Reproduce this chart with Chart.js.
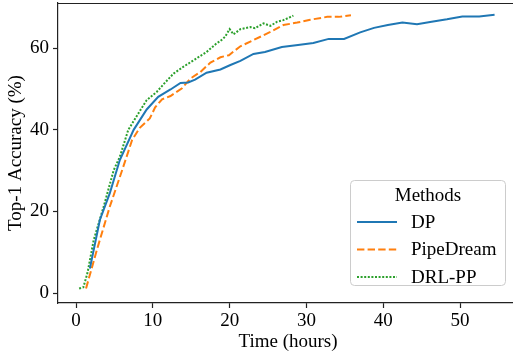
<!DOCTYPE html>
<html>
<head>
<meta charset="utf-8">
<script src="https://cdn.jsdelivr.net/npm/chart.js@4.4.1/dist/chart.umd.min.js"></script>
<style>
  html, body { margin: 0; background: #fff; overflow: hidden; }
  canvas { display: block; }
</style>
</head>
<body>
<!-- a few px wider than the window: the right side of the frame is cut off in the original -->
<canvas id="chart" width="518" height="354"></canvas>
<script>
// Data (hours, top-1 accuracy %)
var dpTime = [1.8, 3.1, 4.4, 5.7, 7.5, 9.2, 10.7, 12.3, 13.6, 14.6, 15.5, 17.0, 18.8, 20.1, 21.4, 23.1, 24.6, 26.8, 28.9, 30.9, 32.9, 34.9, 37.0, 38.8, 40.6, 42.5, 44.4, 46.3, 48.3, 50.3, 52.5, 54.5];
var dpAcc = [6.0, 17.9, 24.5, 32.6, 40.0, 45.0, 48.1, 49.9, 51.5, 51.6, 52.3, 54.0, 54.8, 55.9, 56.9, 58.6, 59.1, 60.3, 60.8, 61.3, 62.3, 62.3, 63.9, 65.0, 65.7, 66.3, 65.9, 66.5, 67.1, 67.8, 67.8, 68.2];

var pdTime = [1.3, 2.7, 4.4, 6.0, 7.3, 8.3, 9.6, 10.3, 11.2, 12.3, 13.8, 14.9, 16.2, 17.5, 18.8, 19.9, 21.4, 23.1, 25.3, 27.0, 28.8, 30.5, 32.7, 34.2, 35.8];
var pdAcc = [1.1, 10.5, 21.2, 30.1, 37.5, 40.5, 42.8, 45.5, 47.5, 48.3, 50.2, 52.6, 54.2, 56.5, 57.8, 58.3, 60.5, 62.0, 64.0, 65.7, 66.3, 67.0, 67.7, 67.7, 68.1];

var drlTime = [0.4, 0.95, 1.5, 2.3, 3.6, 4.9, 5.7, 6.8, 8.3, 9.2, 10.5, 11.6, 12.7, 14.0, 15.5, 17.0, 18.3, 18.8, 19.4, 20.0, 20.5, 21.4, 22.7, 23.3, 24.4, 25.3, 26.2, 27.0, 28.3];
var drlAcc = [1.1, 1.4, 5.0, 13.0, 21.2, 30.1, 33.4, 40.0, 44.6, 47.3, 49.3, 51.6, 53.8, 55.5, 57.3, 59.1, 61.2, 61.8, 62.8, 64.7, 63.4, 64.7, 65.2, 64.9, 66.1, 65.5, 66.5, 66.9, 68.0];

var methodNames = ["DP", "PipeDream", "DRL-PP"];
var xTicks = [0, 10, 20, 30, 40, 50];
var yTicks = [0, 20, 40, 60];

var FONT = "'Liberation Serif', 'Times New Roman', serif";

function toPoints(xs, ys) {
    var pts = [];
    for (var i = 0; i < xs.length; i++) {
        pts.push({x: xs[i], y: ys[i]});
    }
    return pts;
}

// Top spine (matplotlib style frame)
var frame = {
    id: "frame",
    afterDatasetsDraw: function (chart) {
        var a = chart.chartArea;
        var ctx = chart.ctx;
        ctx.save();
        ctx.strokeStyle = "#222";
        ctx.lineWidth = 1.2;
        ctx.beginPath();
        ctx.moveTo(a.left, a.top + 0.5);
        ctx.lineTo(a.right, a.top + 0.5);
        ctx.stroke();
        ctx.restore();
    }
};

// Legend box in the lower right, with a title
var methodLegend = {
    id: "methodLegend",
    afterDraw: function (chart) {
        var a = chart.chartArea;
        var ctx = chart.ctx;
        var w = 155, h = 105;
        var x = 350;
        var y = a.bottom - 18 - h;
        ctx.save();
        ctx.beginPath();
        ctx.roundRect(x + 0.5, y + 0.5, w, h, 4);
        ctx.fillStyle = "rgba(255,255,255,0.8)";
        ctx.fill();
        ctx.strokeStyle = "#cccccc";
        ctx.lineWidth = 1;
        ctx.stroke();

        ctx.font = "19px " + FONT;
        ctx.fillStyle = "#000";
        ctx.textBaseline = "middle";
        ctx.textAlign = "center";
        ctx.fillText("Methods", x + 78, y + 16);

        ctx.textAlign = "left";
        var sets = chart.data.datasets;
        for (var i = 0; i < sets.length; i++) {
            var ly = y + 42 + i * 27.5;
            ctx.beginPath();
            ctx.setLineDash(sets[i].borderDash || []);
            ctx.strokeStyle = sets[i].borderColor;
            ctx.lineWidth = sets[i].borderWidth;
            ctx.moveTo(x + 7, ly);
            ctx.lineTo(x + 47, ly);
            ctx.stroke();
            ctx.setLineDash([]);
            ctx.fillText(sets[i].label, x + 61, ly + 1);
        }
        ctx.restore();
    }
};

var data = {
    datasets: [
        {
            label: methodNames[0],
            data: toPoints(dpTime, dpAcc),
            borderColor: "#1f77b4",
            borderWidth: 2,
            borderDash: []
        },
        {
            label: methodNames[1],
            data: toPoints(pdTime, pdAcc),
            borderColor: "#ff7f0e",
            borderWidth: 2,
            borderDash: [7.4, 3.2]
        },
        {
            label: methodNames[2],
            data: toPoints(drlTime, drlAcc),
            borderColor: "#2ca02c",
            borderWidth: 2,
            borderDash: [2, 1.6]
        }
    ]
};

var tickFont = {family: FONT, size: 19};

var ctx = document.getElementById("chart");
var myChart = new Chart(ctx, {
    type: "line",
    data: data,
    options: {
        responsive: false,
        animation: false,
        layout: {padding: {top: 3, right: 0, left: 0, bottom: 0}},
        elements: {
            point: {radius: 0},
            line: {tension: 0, fill: false, borderCapStyle: "butt"}
        },
        plugins: {
            legend: {display: false},
            tooltip: {enabled: false}
        },
        scales: {
            x: {
                type: "linear",
                min: -2.35,
                max: 57.55,
                afterBuildTicks: function (scale) {
                    scale.ticks = xTicks.map(function (v) { return {value: v}; });
                },
                afterFit: function (scale) {
                    scale.height = 51;
                    scale.paddingLeft = 0;
                    scale.paddingRight = 0;
                },
                grid: {display: true, drawOnChartArea: false, drawTicks: true, tickLength: 5, tickColor: "#222", tickWidth: 1.2},
                border: {display: true, color: "#222", width: 1.2},
                ticks: {font: tickFont, color: "#000", padding: 2, maxRotation: 0},
                title: {display: true, text: "Time (hours)", font: tickFont, color: "#000", padding: {top: 0, bottom: 1}}
            },
            y: {
                type: "linear",
                min: -2.45,
                max: 71.1,
                afterBuildTicks: function (scale) {
                    scale.ticks = yTicks.map(function (v) { return {value: v}; });
                },
                afterFit: function (scale) {
                    scale.width = 58;
                    scale.paddingTop = 0;
                    scale.paddingBottom = 0;
                },
                grid: {display: true, drawOnChartArea: false, drawTicks: true, tickLength: 5, tickColor: "#222", tickWidth: 1.2},
                border: {display: true, color: "#222", width: 1.2},
                ticks: {font: tickFont, color: "#000", padding: 4},
                title: {display: true, text: "Top-1 Accuracy (%)", font: tickFont, color: "#000", padding: {top: 5, bottom: 0}}
            }
        }
    },
    plugins: [frame, methodLegend]
});
</script>
</body>
</html>
